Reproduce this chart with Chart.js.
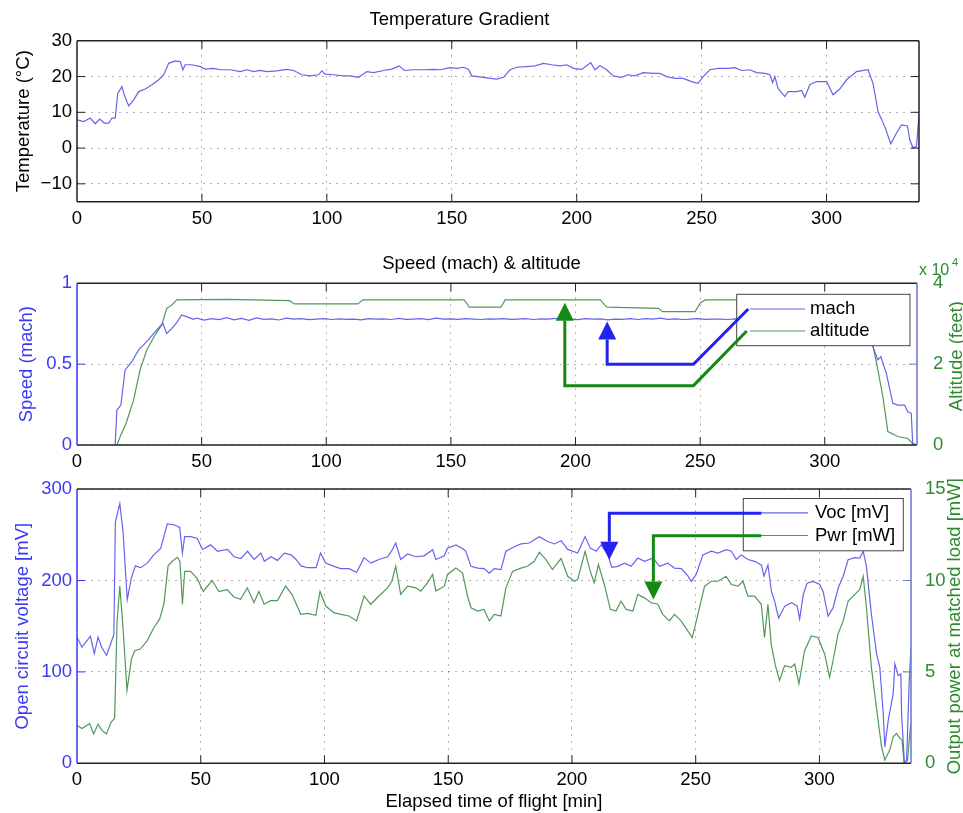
<!DOCTYPE html>
<html>
<head>
<meta charset="utf-8">
<script src="https://cdn.jsdelivr.net/npm/chart.js@4.4.1/dist/chart.umd.min.js"></script>
<style>
  body { margin: 0; background: #fff; width: 963px; height: 813px; overflow: hidden; position: relative; }
  canvas { position: absolute; left: 0; }
</style>
</head>
<body>
<canvas id="tempChart" width="963" height="232" style="top:0"></canvas>
<canvas id="speedChart" width="963" height="240" style="top:232px"></canvas>
<canvas id="powerChart" width="963" height="341" style="top:472px"></canvas>
<script>
// ── Data (time in minutes) ──
const tempTime = [
  0, 2.7, 5.3, 7.3, 9.1, 10.9, 12.7, 14, 15.3, 16.3,
  18, 18.9, 20.7, 22.7, 24.7, 27.3, 30, 32.7, 34.7, 36.7,
  39.3, 41.3, 42.4, 43.3, 46, 49.3, 51.3, 54.7, 57.3, 61.3,
  65.3, 68, 70.7, 73.3, 76, 80, 84, 86.7, 90, 93.3,
  96.7, 98, 99.3, 102.7, 106.7, 109.3, 112.7, 116, 118.7, 122.7,
  126, 128.9, 131.1, 134.7, 138.7, 142.7, 145.3, 149.3, 152, 154.7,
  156.7, 158, 161.3, 165.3, 168, 170.7, 173.3, 176, 180, 183.3,
  186.7, 190, 193.3, 196, 198.7, 202, 204, 205.6, 207.3, 209.3,
  212, 214.6, 218, 220.6, 223.3, 226.6, 230.6, 233.3, 236, 239.3,
  242.6, 246, 248.6, 250.6, 253.3, 256.6, 260.6, 263.3, 266, 269.3,
  272, 275.3, 277.3, 278.4, 279.3, 280.6, 283.3, 284.6, 288, 290,
  291.3, 293.3, 296, 300, 302.6, 305.3, 308, 312, 316.6, 318.6,
  320.6, 323.3, 325.7, 328, 330, 332.4, 333.3, 334.6, 336, 337
];
const tempVal = [
  7.9, 7.4, 8.4, 6.8, 8.1, 7.0, 7.0, 8.4, 8.4, 15.3,
  17.2, 14.9, 11.8, 13.5, 15.8, 16.5, 17.7, 19.1, 20.5, 23.7,
  24.4, 24.2, 21.9, 23.3, 23.3, 22.8, 22.1, 22.3, 21.9, 21.9,
  21.4, 21.9, 21.4, 21.7, 21.4, 21.6, 22.0, 21.7, 20.5, 20.2,
  20.5, 21.6, 20.7, 20.5, 20.2, 20.2, 19.8, 21.4, 21.1, 21.7,
  22.1, 23.0, 21.7, 21.9, 21.9, 22.0, 21.9, 22.5, 22.3, 22.6,
  22.0, 20.2, 19.9, 19.5, 19.3, 19.8, 21.9, 22.6, 22.8, 23.0,
  23.7, 23.3, 23.0, 23.3, 22.3, 22.0, 23.0, 23.9, 21.9, 23.0,
  21.9, 20.2, 19.8, 20.5, 20.2, 21.1, 20.9, 20.9, 20.0, 19.5,
  19.5, 18.6, 18.1, 20.0, 21.9, 22.3, 22.3, 22.5, 21.7, 21.9,
  21.1, 20.9, 20.5, 18.3, 20.0, 16.7, 14.4, 15.8, 15.8, 16.1,
  14.2, 17.7, 18.6, 18.6, 14.9, 16.5, 19.1, 21.4, 21.9, 18.1,
  10.2, 6.0, 1.2, 4.2, 6.5, 6.2, 2.3, 0, 0.5, 9.3
];

const machTime = [
  15.3, 16, 17.6, 19.3, 22, 24.7, 28, 31.3, 34.4, 36,
  38, 40, 42, 44, 46.7,
  48, 51, 54, 57, 60, 63, 66, 69, 72, 75,
  78, 81, 84, 87, 90, 93, 96, 99, 102, 105,
  108, 111, 114, 117, 120, 123, 126, 129, 132, 135,
  138, 141, 144, 147, 150, 153, 156, 159, 162, 165,
  168, 171, 174, 177, 180, 183, 186, 189, 192, 195,
  198, 201, 204, 207, 210, 213, 216, 219, 222, 225,
  228, 231, 234, 237, 240, 243, 246, 249, 252, 255,
  258, 261, 264,
  290, 316, 319.3, 321.3, 322.5, 324.7, 327.3, 329.3, 332, 333.3,
  334.7, 335.3
];
const machVal = [
  0, 0.216, 0.247, 0.464, 0.515, 0.588, 0.639, 0.70, 0.753, 0.69,
  0.72, 0.757, 0.804, 0.794, 0.777,
  0.785, 0.772, 0.781, 0.776, 0.788, 0.774, 0.783, 0.771, 0.786, 0.777,
  0.780, 0.773, 0.784, 0.778, 0.781, 0.775, 0.779, 0.782, 0.776, 0.780,
  0.777, 0.779, 0.774, 0.781, 0.778, 0.780, 0.776, 0.783, 0.777, 0.779,
  0.781, 0.776, 0.784, 0.778, 0.780, 0.777, 0.781, 0.779, 0.776, 0.780,
  0.778, 0.782, 0.777, 0.779, 0.781, 0.776, 0.780, 0.778, 0.783, 0.777,
  0.779, 0.775, 0.781, 0.778, 0.780, 0.774, 0.779, 0.777, 0.782, 0.776,
  0.781, 0.778, 0.784, 0.777, 0.780, 0.776, 0.779, 0.781, 0.777, 0.779,
  0.778, 0.776, 0.780,
  0.778, 0.780, 0.608, 0.526, 0.546, 0.443, 0.258, 0.247, 0.247, 0.206,
  0.196, 0
];

const altTime = [
  16, 17.6, 19.7, 22.7, 25.3, 28, 31.3, 34, 36, 38,
  40, 60, 85.3, 86.5, 87.3, 112.7, 113.7, 114.7, 155.3, 156.5,
  157.3, 170, 171, 171.7, 210, 211.5, 212.6, 233.3, 234.9, 248,
  250, 252, 316, 317.5, 319.3, 321.3, 323.3, 325.3, 329.3, 333.3,
  335.3, 337
];
const altFeet = [
  0, 2500, 5400, 11100, 18600, 23500, 27200, 29700, 33800, 34600,
  35900, 36000, 35700, 35200, 34900, 34900, 35400, 35900, 35900, 35000,
  34100, 34100, 35000, 35900, 35900, 34800, 34100, 33800, 33000, 33000,
  35100, 35900, 35900, 32000, 24700, 18600, 12000, 3300, 2100, 1600,
  400, 0
];

const vocTime = [
  0, 2, 5.4, 7, 8.5, 10, 11.9, 13.5, 14.9, 15.5,
  17.3, 18.6, 20.3, 22, 23.6, 25.7, 28.4, 31, 33.8, 36.5,
  39.2, 41.5, 42.6, 43.5, 46, 48.6, 50.7, 54, 56.8, 60.8,
  63.5, 66.2, 68.9, 71.6, 74.3, 75.7, 78.4, 81, 83.8, 86.5,
  88.5, 90.5, 93.2, 96.6, 98.4, 100.5, 103.8, 106.6, 109.9, 113,
  116, 118.7, 122, 125.5, 127.2, 128.8, 130.8, 133.6, 136.9, 140.3,
  143.7, 145, 148.4, 149.7, 153.1, 155.8, 157.1, 159.2, 161.9, 164.5,
  166.6, 168.6, 171.3, 173.3, 176.7, 179.4, 182.8, 184.8, 186.8, 190.2,
  192.9, 195.6, 198.3, 202.3, 205.3, 207.4, 209.8, 211.8, 214.5, 216.1,
  218.5, 221.2, 223.9, 226.6, 229.3, 232.7, 235.4, 238.7, 241.4, 244.2,
  246.9, 248.2, 250.2, 252.9, 256.3, 259, 262.4, 264.4, 266.4, 268.4,
  271.1, 273.8, 276.5, 277.6, 279.2, 280.6, 281.9, 283.5, 286, 288.7,
  291, 292, 293.5, 295, 297.4, 300, 301.5, 303.5, 305.5, 307.6,
  309.6, 311.6, 314.3, 316.3, 317.7, 319, 321, 323.1, 324.4, 325.8,
  326.4, 327.8, 329.8, 330.5, 331.8, 332.9, 333.2, 334.3, 335.2, 336.3,
  337
];
const vocMilliVolt = [
  138, 127, 139, 120, 138, 127, 118, 130, 141, 264,
  284, 254, 179, 203, 216, 214, 219, 228, 235, 262,
  261, 258, 230, 248, 248, 246, 234, 239, 232, 234,
  226, 224, 232, 223, 230, 221, 226, 222, 230, 228,
  223, 216, 214, 214, 230, 219, 215.5, 213, 213, 209,
  225, 219, 223, 226, 232.6, 241, 223, 229, 226, 227,
  233.7, 223, 227, 235.4, 239, 235, 232, 215.5, 213.6, 213,
  208, 213, 212, 232, 237, 240, 241, 244.6, 248, 242.7,
  240, 243.5, 234, 230, 248, 235.4, 232, 239, 228, 214.5,
  215.5, 219, 215.5, 224.6, 221, 224.6, 215.5, 219, 213.6, 213,
  204.7, 199, 206.5, 228, 232, 230, 233.7, 232, 223, 228,
  223, 221, 217, 204.7, 217, 188, 177.5, 159, 172, 175.7,
  172, 158, 185, 197, 199, 196, 188, 161, 170, 192,
  204.7, 222.8, 225, 224.6, 232, 215.5, 163, 119.6, 105, 54,
  18, 47, 76, 108.7, 96, 97.6, 54, 2, 2, 90.5,
  126.7
];

const pwrTime = [
  0, 2, 5.1, 6.7, 8.5, 10.1, 11.9, 13.8, 15.2, 16.2,
  17.3, 18.6, 20.2, 22, 23.3, 25.6, 28.3, 31, 33.4, 35.1,
  36.8, 38.5, 40.5, 41.6, 42.6, 43.5, 45.9, 48.6, 51, 54.6,
  57.3, 60.7, 63.4, 66.1, 68.8, 71.5, 73.5, 75.6, 78.3, 81,
  84.3, 87, 90.4, 93.1, 96.5, 98.2, 100.5, 103.8, 106.6, 109.9,
  113, 116, 118.7, 122, 125.5, 127.2, 128.8, 130.8, 133.6, 136.9,
  138.9, 141.6, 143.7, 145, 148.4, 149.7, 153.1, 155.8, 157.8, 159.2,
  161.9, 164.5, 166.6, 168.6, 171.3, 173.3, 176, 179.4, 182, 184.8,
  186.8, 189.5, 192.1, 195.6, 198.3, 201, 202.3, 205.3, 207.4, 209,
  210.7, 213.1, 215.5, 217.8, 219.8, 221.9, 224.6, 226.6, 229.3, 232,
  234.7, 236.7, 239.4, 241.4, 244.1, 246.8, 248.6, 250.9, 253.6, 256.3,
  259, 262.3, 264.4, 267.1, 269.1, 271.1, 273.8, 276.5, 277.8, 279.2,
  280.5, 282.2, 283.9, 285.9, 288.6, 290, 291.7, 294, 296.7, 299.4,
  302.1, 304.1, 305.5, 307.5, 309.6, 311.6, 314.3, 316.3, 317.7, 319,
  321, 323, 325.1, 326.4, 328.4, 329.8, 331.1, 332.5, 333.4, 334.2,
  335.6, 336.5, 337
];
const pwrMilliWatt = [
  2.08, 1.9, 2.17, 1.6, 2.14, 1.8, 1.6, 2.26, 2.45, 7.8,
  9.7, 7.4, 4.0, 5.7, 6.16, 6.25, 6.7, 7.4, 7.9, 8.7,
  10.8, 11.05, 11.27, 11.05, 8.7, 10.5, 10.5, 10.1, 9.4, 10,
  9.4, 9.5, 9.1, 8.97, 9.6, 8.8, 9.4, 8.7, 8.9, 8.9,
  9.7, 9.2, 8.15, 8.2, 8.1, 9.4, 8.6, 8.24, 8.15, 8.06,
  7.79, 9.15, 8.7, 9.15, 9.6, 9.96, 10.78, 9.24, 9.69, 9.6,
  9.42, 9.87, 10.33, 9.42, 9.69, 10.33, 10.68, 10.41, 9.15, 8.51,
  8.33, 8.42, 7.79, 8.15, 8.06, 9.6, 10.5, 10.68, 10.78, 11.05,
  11.55, 11.14, 10.6, 11.2, 10.23, 9.96, 10.05, 11.59, 10.5, 9.87,
  10.87, 9.78, 8.42, 8.33, 8.87, 8.42, 8.33, 9.24, 9.05, 8.78,
  8.7, 8.15, 7.79, 8.15, 7.79, 7.24, 6.88, 8.15, 9.69, 9.96,
  9.96, 10.23, 9.78, 9.69, 9.96, 9.15, 9.15, 8.7, 6.88, 8.7,
  6.52, 5.34, 4.53, 5.34, 5.25, 5.43, 4.35, 6.16, 6.97, 6.88,
  5.98, 4.71, 5.61, 7.07, 7.79, 8.87, 9.24, 9.51, 10.23, 8.51,
  5.25, 3.08, 0.9, 0.18, 0.72, 1.45, 1.63, 1.36, 1.27, 0,
  0.18, 1.63, 2.17
];

// ── Style ──
const FONT       = "'Liberation Sans', Arial, Helvetica, sans-serif";
const TXT        = { family: FONT, size: 18.5 };
const GRID       = 'rgba(0,0,0,0.3)';
const LINE_BLUE  = '#6464ee';
const LINE_GREEN = '#52985a';
const AXIS_BLUE  = '#3a3af2';
const AXIS_GREEN = '#2e8a2e';
const ARROW_BLUE = '#2323f0';
const ARROW_GREEN= '#138a13';
const TICK_LEN   = 8;

const pts = (xs, ys) => xs.map((x, i) => ({ x, y: ys[i] }));

function line(label, data, color, axis) {
  return { label, data, borderColor: color, borderWidth: 1.2, pointRadius: 0,
           tension: 0, yAxisID: axis || 'y' };
}

function timeAxis(height, withTitle) {
  return {
    type: 'linear', min: 0, max: 337,
    ticks: { stepSize: 50, includeBounds: false, color: '#000', font: TXT, padding: 6, maxRotation: 0 },
    grid: { color: GRID, drawTicks: false },
    border: { display: false, dash: [2, 5] },
    title: { display: withTitle, text: 'Elapsed time of flight [min]', color: '#000', font: TXT,
             padding: { top: 0, bottom: 0 } },
    afterFit(s) { s.height = height; },
  };
}

function arrow(ctx, xs, ys, a) {
  const p = a.path.map(([x, y]) => [xs.getPixelForValue(x), ys.getPixelForValue(y)]);
  const [tx, ty] = p[p.length - 1];
  const [qx, qy] = p[p.length - 2];
  const len = Math.hypot(tx - qx, ty - qy);
  const ux = (tx - qx) / len, uy = (ty - qy) / len;
  const bx = tx - ux * 18, by = ty - uy * 18;
  ctx.strokeStyle = a.color;
  ctx.fillStyle = a.color;
  ctx.lineWidth = 3;
  ctx.lineJoin = 'miter';
  ctx.beginPath();
  ctx.moveTo(p[0][0], p[0][1]);
  for (let i = 1; i < p.length - 1; i++) ctx.lineTo(p[i][0], p[i][1]);
  ctx.lineTo(bx, by);
  ctx.stroke();
  ctx.beginPath();
  ctx.moveTo(tx, ty);
  ctx.lineTo(bx - uy * 9, by + ux * 9);
  ctx.lineTo(bx + uy * 9, by - ux * 9);
  ctx.closePath();
  ctx.fill();
}

// ── MATLAB-like box, inward ticks, legend, arrows ──
const framePlugin = {
  id: 'frame',
  afterDatasetsDraw(chart, args, o) {
    const ctx = chart.ctx;
    const { left, right, top, bottom } = chart.chartArea;
    const xs = chart.scales.x, ys = chart.scales.y;
    ctx.save();

    ctx.lineWidth = 1;
    ctx.strokeStyle = '#222';
    ctx.beginPath();
    xs.ticks.forEach(t => {
      const px = xs.getPixelForValue(t.value);
      if (px < left + 2 || px > right - 2) return;
      ctx.moveTo(px, bottom); ctx.lineTo(px, bottom - TICK_LEN);
      ctx.moveTo(px, top);    ctx.lineTo(px, top + TICK_LEN);
    });
    ctx.stroke();
    const yPix = ys.ticks.map(t => ys.getPixelForValue(t.value))
                         .filter(py => py > top + 2 && py < bottom - 2);
    [[left, TICK_LEN, o.leftColor], [right, -TICK_LEN, o.rightColor]].forEach(([x0, d, c]) => {
      ctx.strokeStyle = c;
      ctx.beginPath();
      yPix.forEach(py => { ctx.moveTo(x0, py); ctx.lineTo(x0 + d, py); });
      ctx.stroke();
    });

    ctx.lineWidth = 1.5;
    ctx.strokeStyle = '#222';
    ctx.beginPath();
    ctx.moveTo(left, top); ctx.lineTo(right, top);
    ctx.moveTo(left, bottom); ctx.lineTo(right, bottom);
    ctx.stroke();
    ctx.strokeStyle = o.leftColor;
    ctx.beginPath(); ctx.moveTo(left, top); ctx.lineTo(left, bottom); ctx.stroke();
    ctx.strokeStyle = o.rightColor;
    ctx.beginPath(); ctx.moveTo(right, top); ctx.lineTo(right, bottom); ctx.stroke();

    const lg = o.legend;
    if (lg) {
      const bx = right - lg.dx, by = top + lg.dy;
      ctx.fillStyle = '#fff';
      ctx.fillRect(bx, by, lg.w, lg.h);
      ctx.lineWidth = 1;
      ctx.strokeStyle = '#444';
      ctx.strokeRect(bx, by, lg.w, lg.h);
      ctx.font = `${TXT.size}px ${FONT}`;
      ctx.textBaseline = 'middle';
      ctx.textAlign = 'left';
      chart.data.datasets.forEach((ds, i) => {
        const y = by + lg.rows[i];
        ctx.strokeStyle = ds.borderColor;
        ctx.lineWidth = 1.2;
        ctx.beginPath(); ctx.moveTo(bx + lg.from, y); ctx.lineTo(bx + lg.to, y); ctx.stroke();
        ctx.fillStyle = '#000';
        ctx.fillText(ds.label, bx + lg.text, y);
      });
    }

    (o.arrows || []).forEach(a => arrow(ctx, xs, ys, a));

    if (o.rightTitle) {
      const rt = o.rightTitle;
      ctx.save();
      ctx.translate(rt.x, (top + bottom) / 2 + rt.dy);
      ctx.rotate(-Math.PI / 2);
      ctx.font = `${TXT.size}px ${FONT}`;
      ctx.fillStyle = AXIS_GREEN;
      ctx.textAlign = 'center';
      ctx.textBaseline = 'middle';
      ctx.fillText(rt.text, 0, 0);
      ctx.restore();
    }

    if (o.exponent) {
      ctx.fillStyle = AXIS_GREEN;
      ctx.textAlign = 'left';
      ctx.textBaseline = 'alphabetic';
      ctx.font = `16px ${FONT}`;
      ctx.fillText('x 10', right + 2, top - 8);
      ctx.font = `11px ${FONT}`;
      ctx.fillText(o.exponent, right + 35, top - 17);
    }
    ctx.restore();
  },
};

const baseOptions = () => ({
  responsive: false,
  animation: false,
  events: [],
  parsing: true,
});

// ── Panel 1: temperature ──
new Chart(document.getElementById('tempChart'), {
  type: 'line',
  data: { datasets: [line('Temperature', pts(tempTime, tempVal), LINE_BLUE)] },
  options: {
    ...baseOptions(),
    layout: { padding: { left: 0, right: 44, top: 0, bottom: 0 } },
    plugins: {
      legend: { display: false },
      tooltip: { enabled: false },
      title: { display: true, text: 'Temperature Gradient', color: '#000',
               font: { ...TXT, weight: 'normal' }, padding: { top: 9, bottom: 9.6 } },
      frame: { leftColor: '#222', rightColor: '#222' },
    },
    scales: {
      x: timeAxis(30.3, false),
      y: {
        min: -15, max: 30,
        ticks: { stepSize: 10, includeBounds: false, color: '#000', font: TXT, padding: 5,
                 callback: v => String(v).replace('-', '\u2212') },
        grid: { color: GRID, drawTicks: false },
        border: { display: false, dash: [2, 5] },
        title: { display: true, text: 'Temperature (°C)', color: '#000', font: TXT, padding: { top: 13 } },
        afterFit(s) { s.width = 77; },
      },
    },
  },
  plugins: [framePlugin],
});

// ── Panel 2: speed & altitude ──
new Chart(document.getElementById('speedChart'), {
  type: 'line',
  data: {
    datasets: [
      line('mach', pts(machTime, machVal), LINE_BLUE, 'y'),
      line('altitude', pts(altTime, altFeet), LINE_GREEN, 'y2'),
    ],
  },
  options: {
    ...baseOptions(),
    layout: { padding: 0 },
    plugins: {
      legend: { display: false },
      tooltip: { enabled: false },
      title: { display: true, text: 'Speed (mach) & altitude', color: '#000',
               font: { ...TXT, weight: 'normal' }, padding: { top: 20.9, bottom: 8.2 } },
      frame: {
        leftColor: AXIS_BLUE, rightColor: '#6a74c8',
        legend: { dx: 180.3, dy: 11, w: 173.3, h: 51.4, rows: [14.7, 36.7], from: 13.3, to: 68.3, text: 73.3 },
        arrows: [
          { color: ARROW_BLUE,  path: [[269.3, 0.841], [247.3, 0.499], [212.7, 0.499], [212.7, 0.763]] },
          { color: ARROW_GREEN, path: [[268.7, 0.705], [247.3, 0.367], [195.7, 0.367], [195.7, 0.88]] },
        ],
        rightTitle: { text: 'Altitude (feet)', x: 957, dy: -8 },
        exponent: '4',
      },
    },
    scales: {
      x: timeAxis(27, false),
      y: {
        position: 'left', min: 0, max: 1,
        ticks: { stepSize: 0.5, color: AXIS_BLUE, font: TXT, padding: 5, callback: v => String(v) },
        grid: { color: GRID, drawTicks: false },
        border: { display: false, dash: [2, 5] },
        title: { display: true, text: 'Speed (mach)', color: AXIS_BLUE, font: TXT, padding: { top: 16 } },
        afterFit(s) { s.width = 77; },
      },
      y2: {
        position: 'right', min: 0, max: 40000,
        ticks: { stepSize: 20000, color: AXIS_GREEN, font: TXT, padding: 8, callback: v => v / 10000 },
        grid: { display: false },
        border: { display: false },
        afterFit(s) { s.width = 46; },
      },
    },
  },
  plugins: [framePlugin],
});

// ── Panel 3: open circuit voltage & power ──
new Chart(document.getElementById('powerChart'), {
  type: 'line',
  data: {
    datasets: [
      line('Voc [mV]', pts(vocTime, vocMilliVolt), LINE_BLUE, 'y'),
      line('Pwr [mW]', pts(pwrTime, pwrMilliWatt), LINE_GREEN, 'y2'),
    ],
  },
  options: {
    ...baseOptions(),
    layout: { padding: { left: 0, right: 0, top: 15.3, bottom: 0 } },
    plugins: {
      legend: { display: false },
      tooltip: { enabled: false },
      frame: {
        leftColor: AXIS_BLUE, rightColor: '#6a74c8',
        legend: { dx: 167.7, dy: 9.4, w: 160, h: 52.3, rows: [14.4, 37], from: 16.7, to: 64.7, text: 71.7 },
        arrows: [
          { color: ARROW_BLUE,  path: [[276.5, 273.5], [215.1, 273.5], [215.1, 222.8]] },
          { color: ARROW_GREEN, path: [[276.5, 248.9], [232.9, 248.9], [232.9, 179.3]] },
        ],
        rightTitle: { text: 'Output power at matched load [mW]', x: 955, dy: 0 },
      },
    },
    scales: {
      x: timeAxis(49.7, true),
      y: {
        position: 'left', min: 0, max: 300,
        ticks: { stepSize: 100, color: AXIS_BLUE, font: TXT, padding: 5 },
        grid: { color: GRID, drawTicks: false },
        border: { display: false, dash: [2, 5] },
        title: { display: true, text: 'Open circuit voltage [mV]', color: AXIS_BLUE, font: TXT, padding: { top: 11.4 } },
        afterFit(s) { s.width = 77; },
      },
      y2: {
        position: 'right', min: 0, max: 15,
        ticks: { stepSize: 5, color: AXIS_GREEN, font: TXT, padding: 6 },
        grid: { display: false },
        border: { display: false },
        afterFit(s) { s.width = 52; },
      },
    },
  },
  plugins: [framePlugin],
});
</script>
</body>
</html>
